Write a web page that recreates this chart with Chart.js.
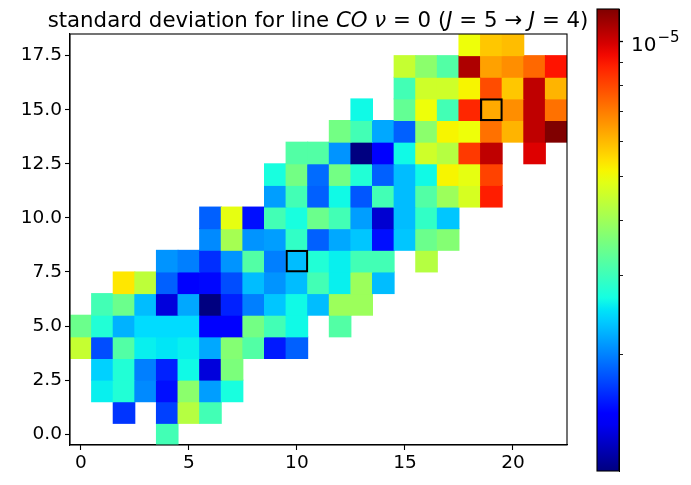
<!DOCTYPE html>
<html>
<head>
<meta charset="utf-8">
<script src="https://cdn.jsdelivr.net/npm/chart.js@4.4.0/dist/chart.umd.min.js"></script>
<style>
  body { margin: 0; background: #fff; }
  #wrap { position: relative; width: 691px; height: 485px; }
  #heat { position: absolute; left: 0; top: 0; }
  #cbar { position: absolute; left: 580px; top: 0; }
  #title {
    position: absolute; left: 0; top: 7px; width: 636px;
    text-align: center; white-space: nowrap;
    font-family: 'DejaVu Sans'; font-size: 21.3px; line-height: 26px; color: #000;
  }
  #cblabel {
    position: absolute; left: 631px; top: 0;
    font-family: 'DejaVu Sans'; font-size: 20px; line-height: 22px; color: #000; white-space: nowrap;
  }
  #cblabel .sup { font-size: 15px; line-height: 15px; position: relative; top: -9px; margin-left: 1px; }
</style>
</head>
<body>
<div id="wrap">
  <canvas id="heat" width="691" height="485"></canvas>
  <canvas id="cbar" width="111" height="485"></canvas>
  <div id="title">standard deviation for line <i>CO</i> <i>ν</i> = 0 (<i>J</i> = 5 → <i>J</i> = 4)</div>
  <div id="cblabel">10<span class="sup">−5</span></div>
</div>
<script>
// colour limits of the log colour scale
var vmin = 1.1e-6;
var vmax = 1.185e-5;

// first filled column of each row (row index = y)
var firstCol = [4, 2, 1, 1, 0, 0, 1, 2, 4, 6, 6, 9, 9, 10, 12, 13, 15, 15, 18];

// standard deviation per cell, in units of 1e-6 (null = empty cell)
var stdRows = [
  [3.06],
  [1.67, null, 1.72, 4.27, 3.06],
  [2.59, 2.78, 2.04, 1.53, 3.78, 2.14, 2.71],
  [2.41, 2.78, 1.99, 1.60, 2.65, 1.33, 3.61],
  [4.47, 1.77, 3.20, 2.59, 2.53, 2.59, 2.19, 3.70, 3.20, 1.57, 1.85],
  [3.44, 2.78, 2.24, 2.47, 2.47, 2.47, 1.46, 1.46, 3.52, 3.06, 2.65, null, 3.20],
  [3.06, 3.44, 2.30, 1.33, 2.19, 1.10, 1.60, 1.99, 2.35, 2.65, 2.30, 3.97, 3.97],
  [5.35, 4.37, 1.85, 1.46, 1.50, 1.77, 2.30, 2.09, 2.30, 3.06, 2.59, 3.97, 2.30],
  [2.09, 1.99, 1.65, 2.09, 3.20, 1.99, 2.30, 2.78, 2.59, 3.06, 3.06, null, 4.27],
  [2.04, 4.07, 2.09, 2.14, 2.91, 1.85, 2.19, 2.35, 1.53, 2.35, 3.44, 3.70],
  [1.85, 4.91, 1.53, 3.06, 2.71, 3.44, 3.06, 2.14, 1.30, 2.30, 2.91, 2.35],
  [2.14, 3.06, 1.85, 2.65, 1.81, 3.06, 2.30, 3.20, 3.97, 4.69, 8.90],
  [2.71, 3.52, 1.90, 3.52, 2.78, 1.85, 2.30, 2.65, 5.16, 4.91, 8.10],
  [3.20, 3.20, 2.09, 1.10, 1.43, 2.65, 4.58, 4.27, 8.29, 10.4, null, 9.76],
  [3.52, 3.06, 2.19, 1.85, 3.78, 5.16, 5.03, 7.20, 6.08, 10.4, 11.85],
  [2.65, null, 3.36, 5.03, 3.06, 8.70, 6.23, 6.69, 10.4, 7.20],
  [3.06, 4.58, 4.58, 5.16, 7.90, 5.80, 10.4, 6.08],
  [4.47, 3.78, 3.20, 10.8, 6.38, 6.69, 7.36, 9.11],
  [5.03, 5.80, 5.94]
];

// outlined cells [x, y]
var boxed = [[10, 8], [19, 15]];

var xTicks = [0, 5, 10, 15, 20];
var yTicks = [0, 2.5, 5, 7.5, 10, 12.5, 15, 17.5];
var cbTicks = [2e-6, 3e-6, 4e-6, 5e-6, 6e-6, 7e-6, 8e-6, 9e-6, 1e-5];
var cbMajor = 1e-5;

// matplotlib "jet"
var jetR = [[0, 0], [0.35, 0], [0.66, 1], [0.89, 1], [1, 0.5]];
var jetG = [[0, 0], [0.125, 0], [0.375, 1], [0.64, 1], [0.91, 0], [1, 0]];
var jetB = [[0, 0.5], [0.11, 1], [0.34, 1], [0.65, 0], [1, 0]];
function interp(t, pts) {
  for (var i = 1; i < pts.length; i++) {
    if (t <= pts[i][0]) {
      var a = pts[i - 1], b = pts[i];
      return a[1] + (b[1] - a[1]) * (t - a[0]) / (b[0] - a[0]);
    }
  }
  return pts[pts.length - 1][1];
}
function jet(t) {
  t = Math.max(0, Math.min(1, t));
  return 'rgb(' + Math.round(interp(t, jetR) * 255) + ',' +
    Math.round(interp(t, jetG) * 255) + ',' + Math.round(interp(t, jetB) * 255) + ')';
}
function colourOf(v) {
  return jet(Math.log(v / vmin) / Math.log(vmax / vmin));
}

var cells = [];
stdRows.forEach(function (row, j) {
  row.forEach(function (v, k) {
    if (v === null) return;
    cells.push({ x: firstCol[j] + k, y: [j - 0.5, j + 0.5], v: v * 1e-6 });
  });
});
var boxCells = boxed.map(function (b) {
  return { x: b[0], y: [b[1] - 0.5, b[1] + 0.5] };
});

var tickFont = { family: 'DejaVu Sans', size: 18.5 };

var frame = {
  id: 'frame',
  afterDatasetsDraw: function (chart) {
    var a = chart.chartArea, c = chart.ctx;
    c.save();
    c.strokeStyle = '#000';
    c.lineWidth = 1.1;
    c.strokeRect(a.left, a.top, a.right - a.left, a.bottom - a.top);
    c.restore();
  }
};

new Chart(document.getElementById('heat'), {
  type: 'bar',
  data: {
    datasets: [{
      data: boxCells,
      order: 0,
      grouped: false,
      backgroundColor: 'rgba(0,0,0,0)',
      borderColor: '#000',
      borderWidth: 1,
      borderSkipped: false,
      inflateAmount: 0.6,
      barPercentage: 1,
      categoryPercentage: 1
    }, {
      data: cells,
      order: 1,
      grouped: false,
      backgroundColor: function (ctx) {
        return ctx.raw ? colourOf(ctx.raw.v) : '#fff';
      },
      borderWidth: 0,
      inflateAmount: 0.5,
      barPercentage: 1,
      categoryPercentage: 1
    }]
  },
  options: {
    responsive: false,
    animation: false,
    layout: { padding: { top: 34, right: 124, left: 0, bottom: 0 } },
    plugins: { legend: { display: false }, tooltip: { enabled: false } },
    scales: {
      x: {
        type: 'linear',
        offset: false,
        min: -0.5,
        max: 22.5,
        afterBuildTicks: function (s) { s.ticks = xTicks.map(function (v) { return { value: v }; }); },
        afterFit: function (s) { s.height = 40; },
        ticks: { color: '#000', font: tickFont, padding: 2, maxRotation: 0 },
        grid: { offset: false, drawOnChartArea: false, tickLength: 5, tickColor: '#000', tickWidth: 1.1 },
        border: { color: '#000', width: 1.1 }
      },
      y: {
        type: 'linear',
        min: -0.5,
        max: 18.5,
        afterBuildTicks: function (s) { s.ticks = yTicks.map(function (v) { return { value: v }; }); },
        afterFit: function (s) { s.width = 70; },
        ticks: {
          color: '#000', font: tickFont, padding: 3,
          callback: function (v) { return v.toFixed(1); }
        },
        grid: { drawOnChartArea: false, tickLength: 5, tickColor: '#000', tickWidth: 1.1 },
        border: { color: '#000', width: 1.1 }
      }
    }
  },
  plugins: [frame]
});

// place the HTML "10^-5" label next to its tick on the colour bar scale
var placeLabel = {
  id: 'placeLabel',
  afterRender: function (chart) {
    var y = chart.scales.y.getPixelForValue(cbMajor);
    document.getElementById('cblabel').style.top = (y - 9) + 'px';
  }
};

// colour bar
new Chart(document.getElementById('cbar'), {
  type: 'bar',
  data: {
    labels: [''],
    datasets: [{
      data: [[vmin, vmax]],
      backgroundColor: function (ctx) {
        var a = ctx.chart.chartArea;
        if (!a) return '#888';
        var g = ctx.chart.ctx.createLinearGradient(0, a.bottom, 0, a.top);
        for (var i = 0; i <= 40; i++) g.addColorStop(i / 40, jet(i / 40));
        return g;
      },
      borderWidth: 0,
      barPercentage: 1,
      categoryPercentage: 1
    }]
  },
  options: {
    responsive: false,
    animation: false,
    layout: { padding: { top: 9, bottom: 14, left: 17, right: 0 } },
    plugins: { legend: { display: false }, tooltip: { enabled: false } },
    scales: {
      x: { type: 'category', display: false },
      y: {
        type: 'logarithmic',
        position: 'right',
        min: vmin,
        max: vmax,
        afterBuildTicks: function (s) { s.ticks = cbTicks.map(function (v) { return { value: v }; }); },
        afterFit: function (s) { s.width = 72; s.paddingTop = 0; s.paddingBottom = 0; },
        ticks: { display: false },
        grid: {
          drawOnChartArea: false, tickLength: 4, tickColor: '#000',
          tickWidth: function (ctx) { return ctx.tick && ctx.tick.value === cbMajor ? 1.3 : 0.9; }
        },
        border: { color: '#000', width: 1 }
      }
    }
  },
  plugins: [frame, placeLabel]
});
</script>
</body>
</html>
